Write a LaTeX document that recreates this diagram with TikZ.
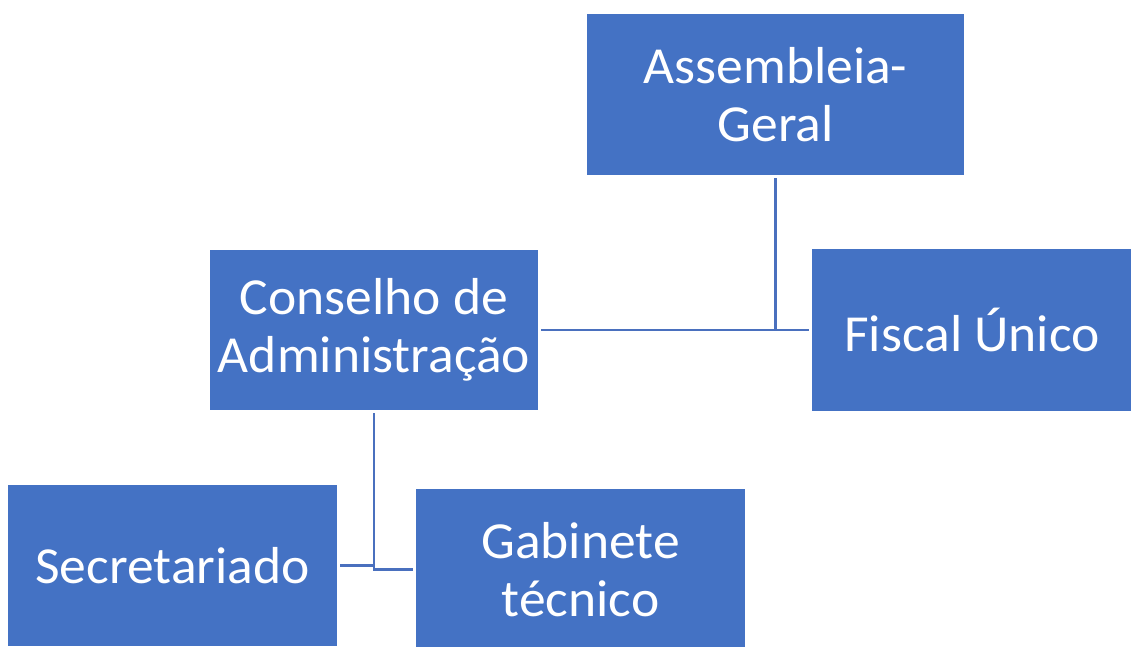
\documentclass[tikz,border=0pt]{standalone}
\usepackage{fontspec}
\setmainfont[FakeStretch=1.03]{Carlito}
\definecolor{boxblue}{HTML}{4472C4}
\definecolor{linkblue}{HTML}{4A70BE}
\begin{document}
\begin{tikzpicture}[x=1pt,y=-1pt,
  orgbox/.style={fill=boxblue, draw=none, text=white, inner sep=0pt, align=center,
    font=\fontsize{52}{58}\selectfont},
  link/.style={draw=linkblue, line width=2.2pt}]
\useasboundingbox (0,0) rectangle (1131,646);
\node[orgbox, minimum width=377pt, minimum height=161pt] (ag) at (775.5,94.5) {Assembleia-\\Geral};
\node[orgbox, minimum width=328pt, minimum height=160pt] (cd) at (374,330) {Conselho de\\Administração};
\node[orgbox, minimum width=320pt, minimum height=162pt] (fu) at (972,330) {Fiscal Único};
\node[orgbox, minimum width=329pt, minimum height=161pt] (se) at (172.5,565.5) {Secretariado};
\node[orgbox, minimum width=329pt, minimum height=161pt] (gt) at (580.5,569.5) {Gabinete\\técnico};
\draw[link] ([yshift=-3pt]ag.south) -- (ag.south |- cd.east);
\draw[link] ([xshift=3pt]cd.east) -- ([xshift=-3pt]fu.west);
\draw[link] ([yshift=-3pt]cd.south) -- (cd.south |- gt.west) -- ([xshift=-3pt]gt.west);
\draw[link] ([xshift=3pt]se.east) -- (cd.south |- se.east);
\end{tikzpicture}
\end{document}
